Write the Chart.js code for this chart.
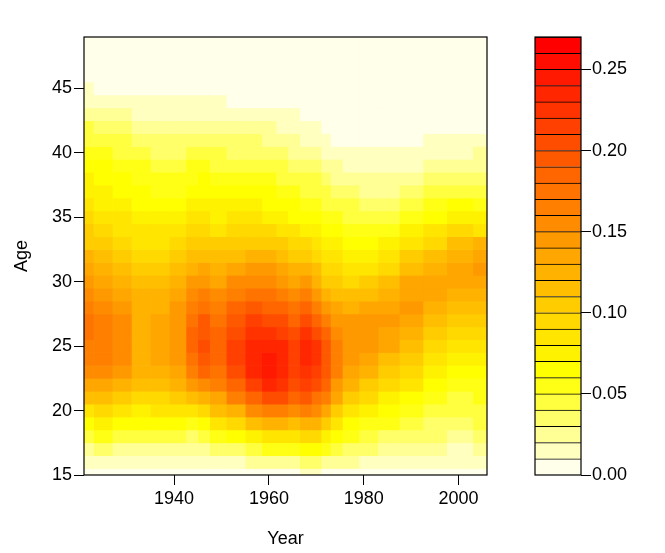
<!DOCTYPE html>
<html><head><meta charset="utf-8">
<script src="https://cdn.jsdelivr.net/npm/chart.js@4/dist/chart.umd.min.js"></script>
<style>
html,body{margin:0;padding:0;background:#fff;}
#wrap{position:relative;width:665px;height:553px;background:#fff;}
canvas{position:absolute;left:0;top:0;}
</style></head><body>
<div id="wrap"><canvas id="main" width="665" height="553"></canvas><canvas id="key" width="665" height="553"></canvas></div>
<script>
// ---- data ----
const years = [1921,1925,1929,1933,1937,1941,1944,1946,1949,1953,1957,1960,1963,1965,1968,1970,1972,1974,1977,1981,1985,1990,1995,2000,2006];
const ages = [15,16,17,18,19,20,21,22,23,24,25,26,27,28,29,30,31,32,33,34,35,36,37,38,39,40,41,42,43,44,45,46,47,48,49];
// fertility rate by age (15..49) for each year column
const r1921 = [.003,.010,.025,.042,.062,.085,.110,.135,.150,.162,.168,.172,.170,.165,.158,.148,.138,.125,.108,.100,.090,.085,.078,.072,.066,.058,.048,.040,.028,.018,.010,.005,.002,.001,.000];
const r1925 = [.004,.014,.030,.050,.070,.090,.115,.135,.150,.160,.165,.165,.160,.155,.145,.135,.122,.110,.100,.090,.083,.078,.072,.066,.060,.052,.044,.035,.025,.016,.009,.004,.002,.001,.000];
const r1929 = [.004,.013,.028,.046,.065,.085,.105,.125,.140,.150,.155,.155,.152,.145,.138,.128,.118,.105,.095,.086,.080,.074,.068,.062,.056,.049,.040,.032,.022,.014,.008,.004,.002,.001,.000];
const r1933 = [.004,.012,.026,.042,.060,.078,.095,.110,.120,.126,.128,.128,.127,.125,.120,.112,.104,.095,.087,.080,.074,.068,.062,.056,.050,.043,.035,.027,.019,.012,.007,.003,.001,.001,.000];
const r1937 = [.004,.012,.026,.043,.060,.080,.098,.113,.124,.130,.133,.134,.132,.128,.122,.114,.106,.097,.088,.080,.072,.065,.058,.052,.046,.039,.031,.023,.016,.010,.006,.003,.001,.001,.000];
const r1941 = [.004,.012,.025,.042,.060,.082,.105,.122,.135,.143,.147,.148,.146,.140,.132,.122,.112,.102,.092,.082,.073,.066,.059,.052,.046,.039,.031,.023,.016,.010,.006,.003,.001,.001,.000];
const r1944 = [.004,.011,.022,.038,.058,.085,.115,.145,.165,.178,.183,.183,.178,.168,.155,.140,.126,.112,.100,.090,.080,.072,.065,.058,.051,.044,.036,.027,.018,.011,.006,.003,.001,.001,.000];
const r1946 = [.004,.011,.023,.040,.062,.092,.125,.158,.180,.195,.200,.198,.190,.178,.163,.147,.132,.118,.105,.094,.084,.075,.068,.062,.054,.046,.038,.029,.019,.011,.006,.003,.001,.001,.000];
const r1949 = [.005,.014,.030,.055,.082,.110,.138,.160,.175,.183,.185,.183,.176,.166,.153,.139,.125,.112,.100,.089,.079,.070,.062,.055,.048,.040,.032,.024,.016,.010,.006,.003,.001,.001,.000];
const r1953 = [.006,.017,.037,.064,.095,.128,.160,.186,.203,.212,.213,.207,.196,.182,.166,.150,.134,.118,.104,.092,.081,.071,.062,.054,.046,.038,.030,.021,.014,.009,.005,.002,.001,.000,.000];
const r1957 = [.007,.020,.045,.076,.112,.150,.185,.213,.230,.237,.235,.225,.210,.193,.175,.158,.141,.124,.108,.095,.083,.072,.063,.055,.047,.039,.030,.021,.014,.009,.005,.002,.001,.000,.000];
const r1960 = [.007,.022,.050,.085,.125,.168,.205,.235,.247,.248,.238,.222,.202,.185,.170,.155,.140,.120,.102,.090,.078,.068,.060,.052,.045,.038,.029,.021,.014,.009,.005,.002,.001,.000,.000];
const r1963 = [.008,.024,.052,.086,.125,.165,.200,.225,.235,.236,.230,.218,.200,.182,.165,.148,.132,.115,.100,.087,.076,.066,.057,.049,.041,.034,.026,.018,.012,.008,.004,.002,.001,.000,.000];
const r1965 = [.008,.024,.050,.080,.115,.150,.180,.200,.213,.217,.213,.203,.187,.170,.153,.137,.121,.106,.092,.080,.069,.060,.051,.043,.036,.029,.022,.015,.010,.006,.004,.002,.001,.000,.000];
const r1968 = [.010,.030,.060,.092,.127,.162,.192,.212,.225,.230,.230,.222,.205,.185,.163,.142,.122,.104,.090,.078,.067,.058,.049,.041,.033,.026,.019,.013,.008,.005,.003,.001,.001,.000,.000];
const r1970 = [.011,.033,.062,.092,.120,.150,.178,.200,.215,.222,.220,.205,.185,.162,.142,.125,.110,.096,.085,.075,.066,.057,.049,.040,.032,.024,.018,.012,.008,.005,.003,.001,.001,.000,.000];
const r1972 = [.009,.028,.052,.078,.105,.135,.162,.182,.195,.198,.193,.180,.162,.142,.124,.108,.094,.082,.072,.064,.056,.048,.040,.032,.025,.018,.013,.009,.006,.004,.002,.001,.000,.000,.000];
const r1974 = [.008,.024,.044,.064,.085,.108,.130,.148,.160,.165,.164,.157,.146,.132,.118,.104,.091,.080,.070,.061,.053,.045,.036,.028,.020,.014,.009,.006,.004,.003,.002,.001,.000,.000,.000];
const r1977 = [.007,.020,.036,.052,.068,.088,.108,.125,.137,.145,.148,.146,.140,.128,.114,.098,.085,.074,.064,.056,.048,.040,.030,.021,.015,.010,.007,.005,.003,.002,.001,.001,.000,.000,.000];
const r1981 = [.006,.016,.030,.044,.058,.073,.090,.106,.120,.132,.140,.143,.140,.130,.117,.102,.088,.075,.064,.054,.045,.036,.028,.020,.014,.010,.006,.004,.003,.002,.001,.001,.000,.000,.000];
const r1985 = [.005,.014,.026,.038,.050,.062,.076,.090,.104,.118,.130,.138,.141,.138,.128,.114,.099,.084,.071,.059,.048,.038,.029,.022,.015,.010,.007,.004,.003,.002,.001,.001,.000,.000,.000];
const r1990 = [.005,.013,.024,.035,.046,.057,.068,.080,.093,.106,.118,.128,.136,.140,.138,.130,.117,.102,.087,.072,.058,.046,.036,.027,.019,.013,.009,.006,.004,.002,.001,.001,.000,.000,.000];
const r1995 = [.004,.011,.020,.030,.039,.047,.055,.063,.072,.083,.095,.107,.118,.127,.132,.132,.126,.114,.099,.083,.067,.053,.041,.030,.021,.015,.010,.006,.004,.002,.001,.001,.000,.000,.000];
const r2000 = [.004,.010,.018,.026,.033,.040,.047,.054,.062,.071,.082,.094,.106,.117,.126,.131,.131,.124,.110,.094,.077,.061,.047,.035,.025,.017,.011,.007,.004,.002,.001,.001,.000,.000,.000];
const r2006 = [.005,.013,.022,.032,.040,.046,.052,.058,.064,.070,.080,.090,.100,.115,.125,.135,.140,.138,.120,.088,.070,.056,.045,.035,.027,.020,.013,.009,.005,.003,.002,.001,.000,.000,.000];
const rateColumns = [r1921,r1925,r1929,r1933,r1937,r1941,r1944,r1946,r1949,r1953,r1957,r1960,r1963,r1965,r1968,r1970,r1972,r1974,r1977,r1981,r1985,r1990,r1995,r2000,r2006];
const levelBreaks = [0.00,0.01,0.02,0.03,0.04,0.05,0.06,0.07,0.08,0.09,0.10,0.11,0.12,0.13,0.14,0.15,0.16,0.17,0.18,0.19,0.20,0.21,0.22,0.23,0.24,0.25,0.26,0.27];
const yearTicks = [1940,1960,1980,2000];
const ageTicks = [15,20,25,30,35,40,45];
const keyTicks = [0.00,0.05,0.10,0.15,0.20,0.25];

// ---- palette: reversed R heat.colors ----
function hsv(h,s,v){
  const i=Math.floor(h*6), f=h*6-i, p=v*(1-s), q=v*(1-f*s), t=v*(1-(1-f)*s);
  let r,g,b;
  switch(((i%6)+6)%6){case 0:r=v;g=t;b=p;break;case 1:r=q;g=v;b=p;break;case 2:r=p;g=v;b=t;break;case 3:r=p;g=q;b=v;break;case 4:r=t;g=p;b=v;break;default:r=v;g=p;b=q;}
  return 'rgb('+Math.round(r*255)+','+Math.round(g*255)+','+Math.round(b*255)+')';
}
function heatColors(n){
  const j=Math.floor(n/4), i=n-j, out=[];
  for(let k=0;k<i;k++) out.push(hsv((k/(i-1))/6,1,1));
  const s0=1-1/(2*j), s1=1/(2*j);
  for(let k=0;k<j;k++) out.push(hsv(1/6, s0+(s1-s0)*k/(j-1), 1));
  return out;
}
const palette = heatColors(levelBreaks.length-1).reverse();
function colorFor(v){
  let k=0;
  for(let i=0;i<levelBreaks.length-1;i++){ if(v>=levelBreaks[i]) k=i; }
  return palette[k];
}

Chart.defaults.font.family = '"Liberation Sans", Arial, Helvetica, sans-serif';
Chart.defaults.font.size = 18;
Chart.defaults.color = '#000';

function framePlugin(id){
  return { id:id, afterDraw(chart){
    const {ctx, chartArea:a} = chart;
    ctx.save(); ctx.strokeStyle='#000'; ctx.lineWidth=1.2;
    ctx.strokeRect(a.left, a.top, a.right-a.left, a.bottom-a.top);
    ctx.restore();
  }};
}

// ---- main filled-contour style heatmap: one dataset per year column ----
// each column's cell extends half-way to the neighbouring year columns
const yearMin = years[0], yearMax = years[years.length-1];
function cellStart(i){ return i === 0 ? yearMin : (years[i-1] + years[i]) / 2; }
function cellEnd(i){ return i === years.length-1 ? yearMax : (years[i] + years[i+1]) / 2; }

const cellSets = years.map((yr, yi) => ({
  data: ages.map(age => ({y: age, x: [cellStart(yi), cellEnd(yi)]})),
  backgroundColor: ages.map((age, ai) => colorFor(rateColumns[yi][ai])),
  borderWidth: 0,
  categoryPercentage: 1,
  barPercentage: 1,
  grouped: false
}));

new Chart(document.getElementById('main'), {
  type: 'bar',
  data: { datasets: cellSets },
  options: {
    indexAxis: 'y',
    responsive: false, animation: false, devicePixelRatio: 1,
    layout: { padding: { left: 0, right: 178, top: 37, bottom: 0 } },
    plugins: { legend: { display: false }, tooltip: { enabled: false } },
    scales: {
      x: {
        type: 'linear', min: yearMin, max: yearMax, offset: false,
        grid: { offset: false, drawOnChartArea: false, drawTicks: true, tickLength: 10, color: '#000', lineWidth: 1 },
        border: { display: false },
        afterBuildTicks: s => { s.ticks = yearTicks.map(v => ({value: v})); },
        afterFit: s => { s.height = 78; },
        ticks: { autoSkip: false, maxRotation: 0, padding: 3, callback: v => String(v) },
        title: { display: true, text: 'Year', padding: { top: 0, bottom: 3 } }
      },
      y: {
        type: 'linear', min: 15, max: 49, offset: false,
        grid: { offset: false, drawOnChartArea: false, drawTicks: true, tickLength: 10, color: '#000', lineWidth: 1 },
        border: { display: false },
        afterBuildTicks: s => { s.ticks = ageTicks.map(v => ({value: v})); },
        afterFit: s => { s.width = 84; },
        ticks: { autoSkip: false, padding: 2, callback: v => String(v) },
        title: { display: true, text: 'Age', padding: { top: 11, bottom: 0 } }
      }
    }
  },
  plugins: [framePlugin('frameMain')]
});

// ---- colour key ----
const keySets = levelBreaks.slice(0, -1).map((lo, k) => ({
  data: [[lo, levelBreaks[k+1]]],
  backgroundColor: palette[k],
  borderColor: '#000',
  borderWidth: { top: 1, right: 0, bottom: 0, left: 0 },
  borderSkipped: false,
  categoryPercentage: 1,
  barPercentage: 1,
  grouped: false
}));

new Chart(document.getElementById('key'), {
  type: 'bar',
  data: { labels: [''], datasets: keySets },
  options: {
    responsive: false, animation: false, devicePixelRatio: 1,
    layout: { padding: { left: 535, right: 0, top: 37, bottom: 78 } },
    plugins: { legend: { display: false }, tooltip: { enabled: false } },
    scales: {
      x: { display: false },
      y: {
        position: 'right', min: 0, max: 0.27,
        grid: { drawOnChartArea: false, drawTicks: true, tickLength: 10, color: '#000', lineWidth: 1 },
        border: { display: false },
        afterBuildTicks: s => { s.ticks = keyTicks.map(v => ({value: v})); },
        afterFit: s => { s.width = 84; },
        ticks: { autoSkip: false, padding: 1, callback: v => Number(v).toFixed(2) }
      }
    }
  },
  plugins: [framePlugin('frameKey')]
});
</script>
</body></html>
